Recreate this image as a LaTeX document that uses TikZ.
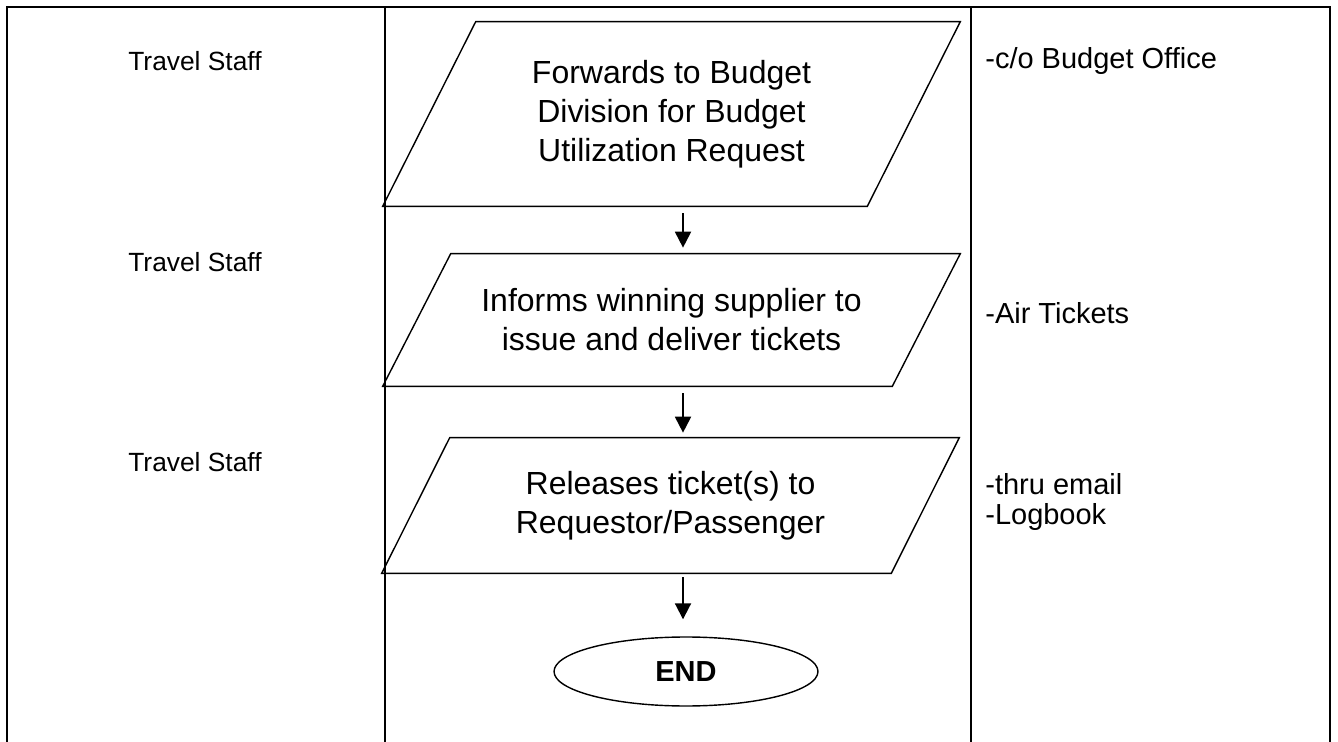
\documentclass[tikz,border=0pt]{standalone}
\usepackage{fontspec}
\setmainfont{Liberation Sans}
\usetikzlibrary{shapes.geometric,arrows.meta}

\begin{document}
\begin{tikzpicture}[x=0.02cm,y=-0.02cm,
	frame/.style={line width=1.5pt},
	io/.style={inner sep=0pt,minimum width=11.54cm,align=center,
		font=\fontsize{18.2pt}{22.2pt}\selectfont},
	box/.style={line width=0.8pt,line join=miter},
	staff/.style={font=\fontsize{15pt}{17pt}\selectfont},
	note/.style={anchor=west,align=left,inner sep=0pt,font=\fontsize{16.5pt}{17.5pt}\selectfont},
	flow/.style={-{Triangle[width=0.32cm,length=0.32cm]},line width=1.1pt}]
\useasboundingbox (0,0) rectangle (1338,742);

% Table
\draw [frame] (7,742)--(7,7)--(1330,7)--(1330,742);
\foreach \x in {385,971}{
	\draw [frame] (\x,7)--(\x,742);
}

% Who
\foreach \y/\n in {61/1,262/2,462/3}{
	\node[staff] (who\n) at (195,\y) {Travel Staff};
}

% Steps
\node[io,minimum height=3.68cm] (fwd) at (671.5,114) {Forwards to Budget\\Division for Budget\\Utilization Request};
\node[io,minimum height=2.64cm] (inform) at (671.5,320) {Informs winning supplier to\\issue and deliver tickets};
\node[io,minimum height=2.7cm] (release) at (670.5,505.5) {Releases ticket(s) to\\Requestor/Passenger};
\foreach \n/\s in {fwd/93,inform/68,release/68}{
	\draw [box] (\n.south west)--([xshift=\s*0.02cm]\n.north west)--(\n.north east)
		--([xshift=-\s*0.02cm]\n.south east)--cycle;
}
\node[draw,ellipse,line width=0.8pt,minimum width=5.28cm,minimum height=1.38cm,inner sep=0pt,
	font=\fontsize{16.5pt}{18pt}\selectfont\bfseries] (stop) at (686,671.5) {END};

% Remarks
\node[note] (rem1) at (985,61) {-c/o Budget Office};
\node[note] (rem2) at (985,313) {-Air Tickets};
\node[note] (rem3) at (985,502) {-thru email\\-Logbook};

% Flow
\draw [flow,shorten <=0.14cm,shorten >=0.12cm] (fwd.south -| 683,0)--(inform.north -| 683,0);
\draw [flow,shorten <=0.14cm,shorten >=0.1cm] (inform.south -| 683,0)--(release.north -| 683,0);
\draw [flow,shorten <=0.08cm,shorten >=0.34cm] (release.south -| 683,0)--(stop.north -| 683,0);
\end{tikzpicture}
\end{document}
